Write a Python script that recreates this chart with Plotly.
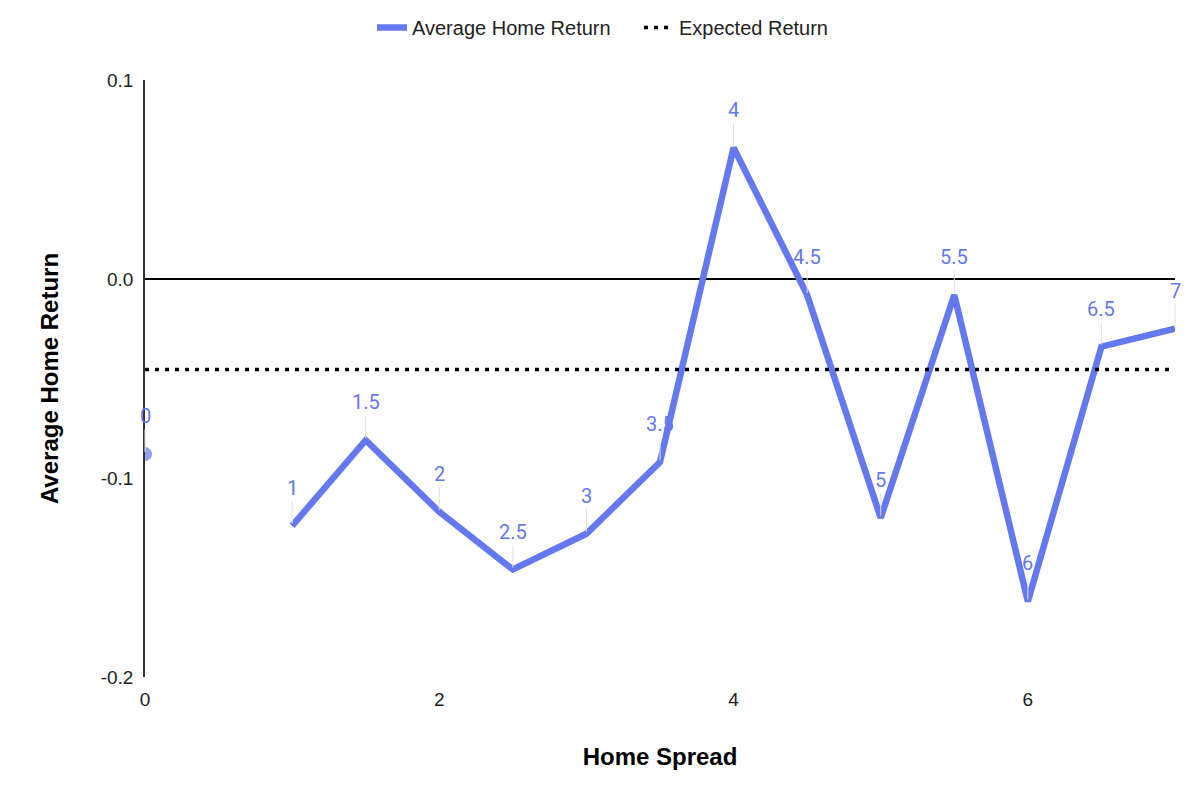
import plotly.graph_objects as go

spreads = [0, 0.5, 1, 1.5, 2, 2.5, 3, 3.5, 4, 4.5, 5, 5.5, 6, 6.5, 7]
avg_return = [-0.088, None, -0.124, -0.081, -0.117, -0.146, -0.128, -0.092,
              0.066, -0.008, -0.120, -0.008, -0.162, -0.034, -0.025]
expected_return = -0.0455
label_text = ["0", "", "1", "1.5", "2", "2.5", "3", "3.5", "4", "4.5", "5", "5.5", "6", "6.5", "7"]
x_ticks = [0, 2, 4, 6]
y_ticks = [0.1, 0.0, -0.1, -0.2]
y_tick_text = ["0.1", "0.0", "-0.1", "-0.2"]

BLUE = "#6479ef"

# markers only for isolated points (neighbours missing)
sizes = []
for i, v in enumerate(avg_return):
    prev_ok = i > 0 and avg_return[i - 1] is not None
    next_ok = i < len(avg_return) - 1 and avg_return[i + 1] is not None
    sizes.append(14 if (v is not None and not prev_ok and not next_ok) else 0)

fig = go.Figure()
fig.add_trace(go.Scatter(
    x=spreads, y=avg_return, mode="lines+markers", name="Average Home Return",
    line=dict(color=BLUE, width=6.5), marker=dict(size=sizes, color=BLUE, line=dict(width=0)),
    connectgaps=False, cliponaxis=True, legend="legend",
))
fig.add_trace(go.Scatter(
    x=[spreads[0], spreads[-1]], y=[expected_return, expected_return], mode="lines",
    name="Expected Return", line=dict(color="black", width=3.5, dash="4px,6px"),
    legend="legend2",
))

for x, y, t in zip(spreads, avg_return, label_text):
    if y is None:
        continue
    fig.add_annotation(
        x=x, y=y, text=t, showarrow=True, arrowhead=0, arrowwidth=1,
        arrowcolor="#e0e0e0", ax=0, ay=-38, standoff=2,
        font=dict(family="Roboto", size=20, color=BLUE),
        xanchor="center",
    )

leg_common = dict(orientation="h", yref="container", xref="container", y=1.0,
                  yanchor="top", xanchor="left", font=dict(size=20, color="#222222"),
                  itemwidth=30)

fig.update_layout(
    width=1200, height=795,
    margin=dict(l=137, r=33, t=72, b=126),
    plot_bgcolor="white", paper_bgcolor="white",
    font=dict(family="Liberation Sans, Arial", size=19, color="#222222"),
    showlegend=True,
    legend=dict(x=364 / 1200, **leg_common),
    legend2=dict(x=631 / 1200, **leg_common),
    xaxis=dict(range=[0, 7], tickvals=x_ticks, showgrid=False, zeroline=False,
               showline=False, ticks="", tickfont=dict(size=19, color="#222222"),
               ticklabelstandoff=9,
               title=dict(text="<b>Home Spread</b>", font=dict(size=24, color="black"), standoff=39)),
    yaxis=dict(range=[-0.2, 0.1], tickvals=y_ticks, ticktext=y_tick_text,
               showgrid=False, zeroline=True, zerolinecolor="black", zerolinewidth=1.5,
               showline=True, linecolor="#333333", linewidth=1.5, ticks="",
               tickfont=dict(size=19, color="#222222"), ticklabelstandoff=6,
               title=dict(text="<b>Average Home Return</b>", font=dict(size=24, color="black"), standoff=35)),
)

fig.write_html("out.html")
